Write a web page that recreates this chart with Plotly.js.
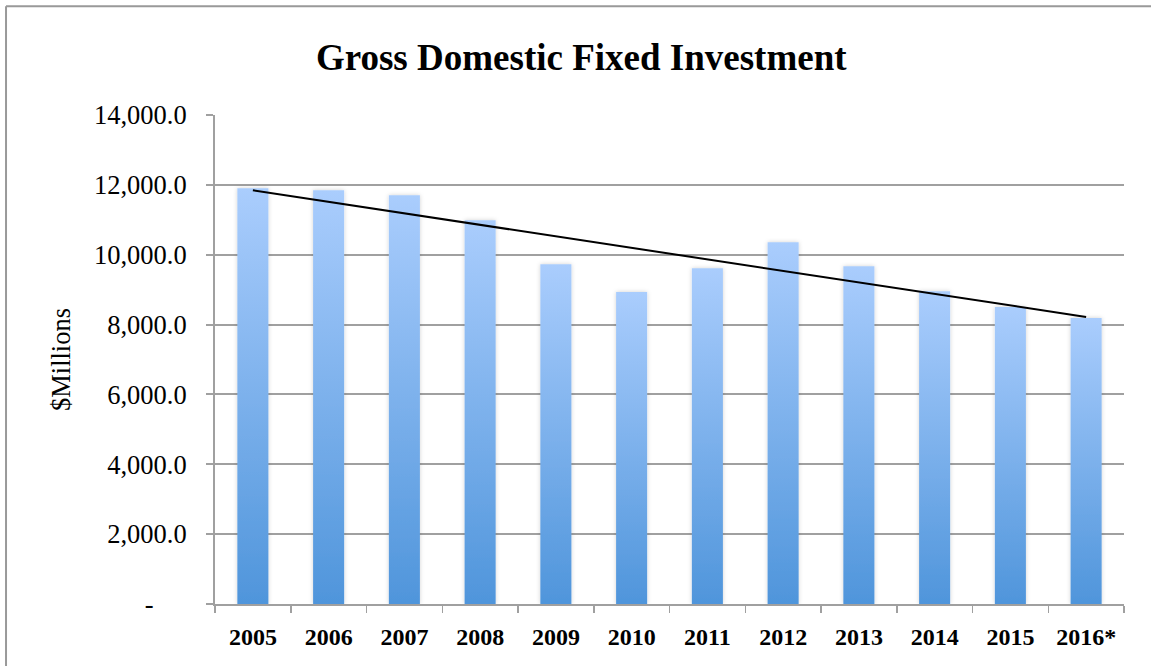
<!DOCTYPE html>
<html>
<head>
<meta charset="utf-8">
<script src="https://cdn.plot.ly/plotly-3.0.1.min.js"></script>
<style>
  html, body { margin: 0; padding: 0; background: #fff; }
  #chart { width: 1151px; height: 666px; }
</style>
</head>
<body>
<div id="chart"></div>
<script>
// ---- data ----
const years = ["2005", "2006", "2007", "2008", "2009", "2010", "2011", "2012", "2013", "2014", "2015", "2016*"];
const investment = [11900, 11845, 11700, 10990, 9730, 8930, 9615, 10360, 9670, 8955, 8500, 8185];
const yTickVals = [0, 2000, 4000, 6000, 8000, 10000, 12000, 14000];
const yTickText = ["-\u00a0\u00a0\u00a0\u00a0\u00a0", "2,000.0", "4,000.0", "6,000.0", "8,000.0", "10,000.0", "12,000.0", "14,000.0"];

// linear trendline (least squares) through the bar values, like Excel's trendline
const n = investment.length;
const xs = investment.map((_, i) => i);
const mx = xs.reduce((a, b) => a + b, 0) / n;
const my = investment.reduce((a, b) => a + b, 0) / n;
let sxy = 0, sxx = 0;
for (let i = 0; i < n; i++) { sxy += (xs[i] - mx) * (investment[i] - my); sxx += (xs[i] - mx) * (xs[i] - mx); }
const slope = sxy / sxx;
const intercept = my - slope * mx;
const trend = xs.map(x => intercept + slope * x);

const serif = "'Liberation Serif', 'Times New Roman', Times, serif";

const traces = [
  {
    type: "bar",
    x: years,
    y: investment,
    marker: { color: "#7fb2ec", line: { width: 0 } },
    hoverinfo: "x+y",
    showlegend: false
  },
  {
    type: "scatter",
    mode: "lines",
    x: years,
    y: trend,
    line: { color: "#000000", width: 2 },
    hoverinfo: "skip",
    showlegend: false
  }
];

const layout = {
  width: 1151,
  height: 666,
  paper_bgcolor: "#ffffff",
  plot_bgcolor: "#ffffff",
  margin: { l: 215, r: 27, t: 115, b: 62, pad: 0 },
  bargap: 0.59,
  title: {
    text: "<b>Gross Domestic Fixed Investment</b>",
    font: { family: serif, size: 37, color: "#000" },
    x: 0.505,
    xanchor: "center",
    xref: "container",
    y: 0.915,
    yanchor: "middle",
    yref: "container"
  },
  xaxis: {
    type: "category",
    showgrid: false,
    showline: true,
    linecolor: "#a0a0a0",
    linewidth: 2,
    ticks: "outside",
    tickson: "boundaries",
    ticklen: 7,
    tickwidth: 1.5,
    tickcolor: "#a0a0a0",
    tickfont: { family: serif, size: 24, color: "#000", weight: "bold" },
    ticklabelstandoff: 10,
    zeroline: false,
    fixedrange: true
  },
  yaxis: {
    range: [0, 14000],
    tickvals: yTickVals,
    ticktext: yTickText,
    showgrid: true,
    gridcolor: "#a0a0a0",
    gridwidth: 2,
    showline: true,
    linecolor: "#a0a0a0",
    linewidth: 2,
    ticks: "outside",
    ticklen: 7,
    tickwidth: 2,
    tickcolor: "#a0a0a0",
    tickfont: { family: serif, size: 26.5, color: "#000" },
    ticklabelstandoff: 14,
    zeroline: false,
    title: {
      text: "$Millions",
      font: { family: serif, size: 26.5, color: "#000" },
      standoff: 16
    },
    fixedrange: true
  },
  shapes: [
    // outer chart frame (left and top edges visible in the reference)
    { type: "line", xref: "paper", yref: "paper", x0: -0.2299, x1: -0.2299, y0: -0.2, y1: 1.2222,
      line: { color: "#999999", width: 2 } },
    { type: "line", xref: "paper", yref: "paper", x0: -0.2299, x1: 1.05, y0: 1.2222, y1: 1.2222,
      line: { color: "#999999", width: 2 } }
  ]
};

Plotly.newPlot("chart", traces, layout, { displayModeBar: false, staticPlot: true }).then(gd => {
  // vertical gradient + soft shadow on bars, as in the reference
  const svg = gd.querySelector("svg.main-svg");
  const ns = "http://www.w3.org/2000/svg";
  let defs = svg.querySelector("defs");
  if (!defs) { defs = document.createElementNS(ns, "defs"); svg.insertBefore(defs, svg.firstChild); }
  const grad = document.createElementNS(ns, "linearGradient");
  grad.setAttribute("id", "barGrad");
  grad.setAttribute("x1", "0"); grad.setAttribute("y1", "0");
  grad.setAttribute("x2", "0"); grad.setAttribute("y2", "1");
  [["0", "#aacdfd"], ["1", "#4f95db"]].forEach(([o, c]) => {
    const s = document.createElementNS(ns, "stop");
    s.setAttribute("offset", o); s.setAttribute("stop-color", c);
    grad.appendChild(s);
  });
  defs.appendChild(grad);
  const filt = document.createElementNS(ns, "filter");
  filt.setAttribute("id", "barShadow");
  filt.setAttribute("x", "-30%"); filt.setAttribute("y", "-5%");
  filt.setAttribute("width", "160%"); filt.setAttribute("height", "110%");
  const ds = document.createElementNS(ns, "feDropShadow");
  ds.setAttribute("dx", "0"); ds.setAttribute("dy", "0");
  ds.setAttribute("stdDeviation", "2");
  ds.setAttribute("flood-color", "#000"); ds.setAttribute("flood-opacity", "0.18");
  filt.appendChild(ds);
  defs.appendChild(filt);
  gd.querySelectorAll("g.trace.bars g.point path").forEach(p => {
    p.style.fill = "url(#barGrad)";
    p.style.fillOpacity = "1";
    p.setAttribute("filter", "url(#barShadow)");
  });
});
</script>
</body>
</html>
